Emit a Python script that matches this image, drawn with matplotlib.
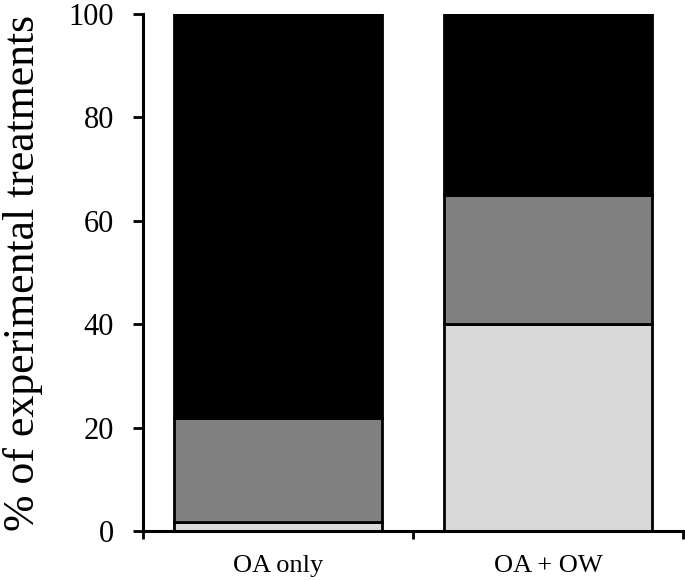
import matplotlib
matplotlib.use('Agg')
import matplotlib.pyplot as plt
import numpy as np

categories = ['OA only', 'OA + OW']
light = [1.8, 40]
grey = [20, 25]
black = [78.2, 35]

plt.rcParams['font.family'] = ['Liberation Serif', 'DejaVu Serif']

fig = plt.figure(figsize=(6.85, 5.8), dpi=100)
ax = fig.add_axes([0.209, 0.0845, 0.788, 0.8915])

x = np.arange(len(categories))
w = 0.77
lw = 2.0
ax.bar(x, light, w, color='#d9d9d9', edgecolor='black', linewidth=lw)
ax.bar(x, grey, w, bottom=light, color='#808080', edgecolor='black', linewidth=lw)
bottom2 = np.array(light) + np.array(grey)
ax.bar(x, black, w, bottom=bottom2, color='black', edgecolor='black', linewidth=lw)

ax.set_xlim(-0.5, 1.5)
ax.set_ylim(0, 100)
ax.set_yticks(range(0, 101, 20))
ax.tick_params(axis='y', labelsize=22, width=2, length=7, direction='out', pad=14)

# category ticks sit between categories, labels at centres
ax.set_xticks([-0.5, 0.5, 1.5])
ax.set_xticklabels([])
ax.set_xticks(x, minor=True)
ax.set_xticklabels(categories, minor=True)
ax.tick_params(axis='x', which='major', width=2, length=6, direction='out')
ax.tick_params(axis='x', which='minor', length=0, labelsize=19, pad=17)

for s in ['top', 'right']:
    ax.spines[s].set_visible(False)
for s in ['left', 'bottom']:
    ax.spines[s].set_linewidth(2.2)

ax.set_ylabel('% of experimental treatments', fontsize=31.5, labelpad=18)

fig.savefig('out.png', dpi=100)
